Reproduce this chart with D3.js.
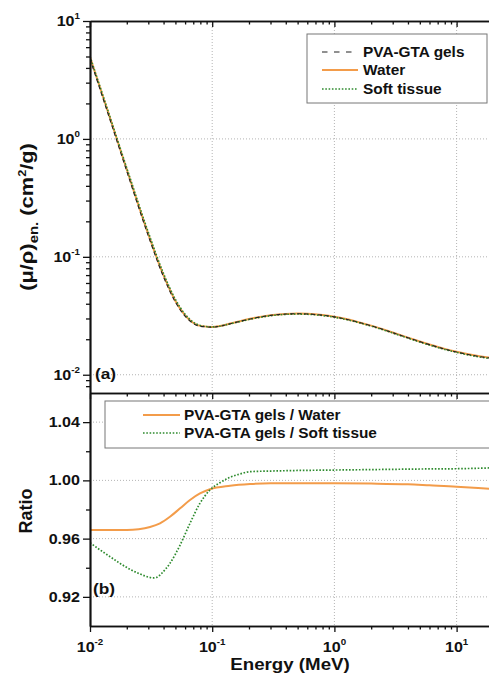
<!DOCTYPE html>
<html><head><meta charset="utf-8">
<script src="https://cdn.jsdelivr.net/npm/d3@7"></script>
<style>body{margin:0;background:#fff}svg{display:block}</style>
</head><body>
<script>
// ---------- data ----------
const energies = [0.01,0.015,0.02,0.03,0.04,0.05,0.06,0.08,0.1,0.15,0.2,0.3,0.4,0.5,0.6,0.8,1,1.25,1.5,2,3,4,5,6,8,10,15,20];
const waterMuEn = [4.944,1.374,0.5503,0.1557,0.06947,0.04223,0.03190,0.02597,0.02546,0.02764,0.02967,0.03192,0.03279,0.03299,0.03284,0.03206,0.03103,0.02965,0.02833,0.02608,0.02281,0.02066,0.01915,0.01806,0.01658,0.01566,0.01441,0.01382];
const pvaMuEn = [4.776,1.327,0.5316,0.1507,0.06751,0.04130,0.03138,0.02574,0.02531,0.02755,0.02960,0.03186,0.03272,0.03292,0.03277,0.03200,0.03097,0.02959,0.02827,0.02602,0.02276,0.02060,0.01909,0.01800,0.01652,0.01559,0.01433,0.01374];
const softMuEn = [4.990,1.402,0.5654,0.1614,0.07201,0.04352,0.03262,0.02614,0.02544,0.02747,0.02943,0.03166,0.03251,0.03270,0.03255,0.03178,0.03075,0.02938,0.02807,0.02583,0.02259,0.02044,0.01894,0.01786,0.01639,0.01547,0.01421,0.01362];

const waterRatioE = [0.01,0.015,0.02,0.025,0.031,0.0374,0.0451,0.0546,0.0658,0.0794,0.0959,0.14,0.204,0.3,0.5,1,2,4,6,10,15,20];
const waterRatio  = [0.966,0.966,0.966,0.9665,0.968,0.9705,0.975,0.9808,0.9865,0.991,0.9939,0.9963,0.9975,0.998,0.998,0.998,0.9978,0.9973,0.9966,0.9957,0.9947,0.994];
const softRatioE = [0.01,0.0121,0.0146,0.0176,0.0213,0.0257,0.031,0.0328,0.0351,0.0386,0.0451,0.0546,0.0658,0.0794,0.0959,0.1157,0.14,0.169,0.204,0.3,0.5,1,2,5,10,20];
const softRatio  = [0.9572,0.9522,0.9476,0.943,0.9389,0.9357,0.9333,0.933,0.9334,0.9362,0.943,0.9556,0.9705,0.9843,0.9934,0.9984,1.0021,1.0044,1.006,1.0064,1.0068,1.0071,1.0074,1.0078,1.008,1.0086];

const xMajor = [0.01,0.1,1,10];
const xMinor = [0.02,0.03,0.04,0.05,0.06,0.07,0.08,0.09,0.2,0.3,0.4,0.5,0.6,0.7,0.8,0.9,2,3,4,5,6,7,8,9,20];
const xExp = ["-2","-1","0","1"];
const yTopMajor = [0.01,0.1,1,10];
const yTopExp = ["-2","-1","0","1"];
const yTopMinor = [0.008,0.009,0.02,0.03,0.04,0.05,0.06,0.07,0.08,0.09,0.2,0.3,0.4,0.5,0.6,0.7,0.8,0.9,2,3,4,5,6,7,8,9];
const yBotMajor = [0.92,0.96,1.00,1.04];
const yBotLabels = ["0.92","0.96","1.00","1.04"];
const yBotMinor = [0.94,0.98,1.02];

const legendTop = ["PVA-GTA gels","Water","Soft tissue"];
const legendBot = ["PVA-GTA gels / Water","PVA-GTA gels / Soft tissue"];

// ---------- layout ----------
const W=489,H=675;
const L=90, R=90+Math.log10(2000)*122.2;
const T1=21, B1=393, B2=626;
const ORANGE="#f39c4a", GREEN="#2e8b2e", GRID="#b4b4b4";
const FONT="'Liberation Sans', Arial, Helvetica, sans-serif";

const svg=d3.select("body").append("svg").attr("width",W).attr("height",H).style("font-family",FONT);

const x=d3.scaleLog().domain([0.01,20]).range([L,R]);
const yT=d3.scaleLog().domain([0.007,10]).range([B1,T1]);
const yB=d3.scaleLinear().domain([0.9,1.06]).range([B2,B1]);

const defs=svg.append("defs");
defs.append("clipPath").attr("id","c1").append("rect").attr("x",L).attr("y",T1).attr("width",R-L).attr("height",B1-T1);
defs.append("clipPath").attr("id","c2").append("rect").attr("x",L).attr("y",B1).attr("width",R-L).attr("height",B2-B1);

// grid
const grid=svg.append("g").attr("stroke",GRID).attr("stroke-width",1).attr("stroke-dasharray","1,2");
xMajor.slice(1).forEach(v=>{
  grid.append("line").attr("x1",x(v)).attr("x2",x(v)).attr("y1",T1).attr("y2",B1);
  grid.append("line").attr("x1",x(v)).attr("x2",x(v)).attr("y1",B1).attr("y2",B2);
});
yTopMajor.slice(0,3).forEach(v=>grid.append("line").attr("x1",L).attr("x2",R).attr("y1",yT(v)).attr("y2",yT(v)));
yBotMajor.forEach(v=>grid.append("line").attr("x1",L).attr("x2",R).attr("y1",yB(v)).attr("y2",yB(v)));

// curves
const lineT=d3.line().x(d=>x(d[0])).y(d=>yT(d[1])).curve(d3.curveMonotoneX);
const lineB=d3.line().x(d=>x(d[0])).y(d=>yB(d[1])).curve(d3.curveMonotoneX);
const gT=svg.append("g").attr("clip-path","url(#c1)").attr("fill","none");
gT.append("path").attr("d",lineT(d3.zip(energies,waterMuEn))).attr("stroke",ORANGE).attr("stroke-width",2);
gT.append("path").attr("d",lineT(d3.zip(energies,softMuEn))).attr("stroke",GREEN).attr("stroke-width",1.6).attr("stroke-dasharray","1.6,1.7");
gT.append("path").attr("d",lineT(d3.zip(energies,pvaMuEn))).attr("stroke","#222").attr("stroke-width",1.1).attr("stroke-dasharray","4,3");
const gB=svg.append("g").attr("clip-path","url(#c2)").attr("fill","none");
gB.append("path").attr("d",lineB(d3.zip(waterRatioE,waterRatio))).attr("stroke",ORANGE).attr("stroke-width",2);
gB.append("path").attr("d",lineB(d3.zip(softRatioE,softRatio))).attr("stroke",GREEN).attr("stroke-width",1.7).attr("stroke-dasharray","1.6,1.7");

// axes
function styleAxis(g){g.selectAll("path").attr("stroke","#111").attr("stroke-width",1.7);g.selectAll("line").attr("stroke","#111").attr("stroke-width",1.3);g.selectAll("text").remove();}
function xAxisAt(y){
  svg.append("g").attr("transform",`translate(0,${y})`).call(d3.axisBottom(x).tickValues(xMajor).tickSize(6).tickSizeOuter(0)).call(styleAxis);
  svg.append("g").attr("transform",`translate(0,${y})`).call(d3.axisBottom(x).tickValues(xMinor).tickSize(3.5).tickSizeOuter(0)).call(styleAxis);
}
xAxisAt(T1); xAxisAt(B1); xAxisAt(B2);
svg.append("g").attr("transform",`translate(${L},0)`).call(d3.axisLeft(yT).tickValues(yTopMajor).tickSize(7).tickSizeOuter(0)).call(styleAxis);
svg.append("g").attr("transform",`translate(${L},0)`).call(d3.axisLeft(yT).tickValues(yTopMinor).tickSize(4).tickSizeOuter(0)).call(styleAxis);
svg.append("g").attr("transform",`translate(${L},0)`).call(d3.axisLeft(yB).tickValues(yBotMajor).tickSize(7).tickSizeOuter(0)).call(styleAxis);
svg.append("g").attr("transform",`translate(${L},0)`).call(d3.axisLeft(yB).tickValues(yBotMinor).tickSize(4).tickSizeOuter(0)).call(styleAxis);
svg.append("line").attr("x1",R).attr("x2",R).attr("y1",T1).attr("y2",B2).attr("stroke","#111").attr("stroke-width",1.7);

// text helper
function txt(px,py,anchor,size,sx,rot){
  let tr=`translate(${px},${py})`+(rot?` rotate(${rot})`:"")+` scale(${sx},1)`;
  return svg.append("text").attr("transform",tr).attr("text-anchor",anchor).attr("font-size",size).attr("font-weight","bold").attr("fill","#111");
}
// tick labels
xMajor.forEach((v,i)=>{
  const t=txt(x(v),652,"middle",14,1.15);
  t.append("tspan").text("10");
  t.append("tspan").attr("font-size",8.5).attr("dy",-7).text(xExp[i]);
});
yTopMajor.forEach((v,i)=>{
  const t=txt(80,yT(v)+5,"end",14,1.15);
  t.append("tspan").text("10");
  t.append("tspan").attr("font-size",8.5).attr("dy",-7).text(yTopExp[i]);
});
yBotMajor.forEach((v,i)=>{ txt(80,yB(v)+5,"end",14,1.15).text(yBotLabels[i]); });

// titles
txt(290,670,"middle",16,1.17).text("Energy (MeV)");
txt(32,511,"middle",18,1,-90).text("Ratio");
const yl=txt(33,217,"middle",19,1.15,-90);
yl.append("tspan").text("(\u03bc/\u03c1)");
yl.append("tspan").attr("font-size",13).attr("dy",5).text("en.");
yl.append("tspan").attr("dy",-5).text(" (cm");
yl.append("tspan").attr("font-size",11).attr("dy",-7).text("2");
yl.append("tspan").attr("dy",7).text("/g)");
txt(95,379,"start",15,1.15).text("(a)");
txt(93,594,"start",15,1.15).text("(b)");

// legends
svg.append("rect").attr("x",307).attr("y",34).attr("width",180).attr("height",69).attr("fill","#fff").attr("stroke","#777").attr("stroke-width",1);
const topStyles=[{c:"#222",w:1.1,d:"5.5,6.5"},{c:ORANGE,w:2,d:null},{c:GREEN,w:1.6,d:"1.6,1.7"}];
const topY=[52,70,89];
legendTop.forEach((s,i)=>{
  svg.append("line").attr("x1",322).attr("x2",358).attr("y1",topY[i]).attr("y2",topY[i]).attr("stroke",topStyles[i].c).attr("stroke-width",topStyles[i].w).attr("stroke-dasharray",topStyles[i].d);
  txt(363,topY[i]+5,"start",14,1.1).text(s);
});
svg.append("rect").attr("x",105).attr("y",401).attr("width",400).attr("height",47).attr("fill","#fff").attr("stroke","#777").attr("stroke-width",1);
const botStyles=[topStyles[1],topStyles[2]];
const botY=[415,433];
legendBot.forEach((s,i)=>{
  svg.append("line").attr("x1",143).attr("x2",180).attr("y1",botY[i]).attr("y2",botY[i]).attr("stroke",botStyles[i].c).attr("stroke-width",botStyles[i].w).attr("stroke-dasharray",botStyles[i].d);
  txt(184,botY[i]+5,"start",14,1.1).text(s);
});
</script>
</body></html>
